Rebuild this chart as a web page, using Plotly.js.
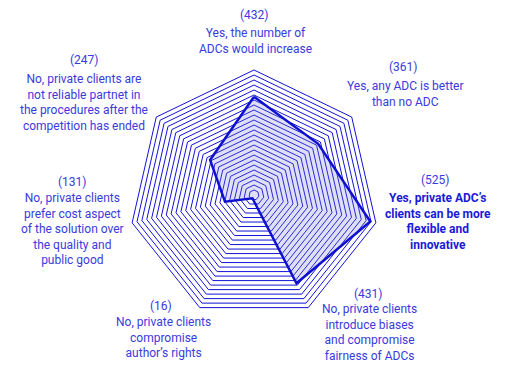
<!DOCTYPE html>
<html>
<head>
<meta charset="utf-8">
<script src="https://cdn.plot.ly/plotly-3.0.1.min.js"></script>
<style>html,body{margin:0;padding:0;background:#fff;}#chart{width:506px;height:365px;}</style>
</head>
<body>
<div id="chart"></div>
<script>
// ---- data ----
const categories = [
  "Yes, the number of<br>ADCs would increase",
  "Yes, any ADC is better<br>than no ADC",
  "Yes, private ADC’s<br>clients can be more<br>flexible and<br>innovative",
  "No, private clients<br>introduce biases<br>and compromise<br>fairness of ADCs",
  "No, private clients<br>compromise<br>author’s rights",
  "No, private clients<br>prefer cost aspect<br>of the solution over<br>the quality and<br>public good",
  "No, private clients are<br>not reliable partnet in<br>the procedures after the<br>competition has ended"
];
const counts = [432, 361, 525, 431, 16, 131, 247];
const boldIndex = [2];

// ---- layout helpers (pixel positions of label blocks) ----
const W = 506, H = 365;
const numPos  = [[254,15],[403,67],[435,180],[368,294],[161,306],[72,182],[84,60]];
const bodyPos = [[255,40.5],[405,94],[438,221.5],[369,332],[163,337],[72,229],[84,102.5]];

const lineCol = '#1212d6';
const textCol = '#3a3ade';
const fontFam = 'Roboto, "Open Sans", sans-serif';
const fs = 12;

const annotations = [];
categories.forEach((c, i) => {
  const bold = boldIndex.includes(i);
  annotations.push({
    xref:'paper', yref:'paper', x:numPos[i][0]/W, y:1-numPos[i][1]/H,
    xanchor:'center', yanchor:'middle', showarrow:false, borderpad:0,
    text:'(' + counts[i] + ')',
    font:{family:fontFam, size:fs, color:textCol}
  });
  annotations.push({
    xref:'paper', yref:'paper', x:bodyPos[i][0]/W, y:1-bodyPos[i][1]/H,
    xanchor:'center', yanchor:'middle', showarrow:false, align:'center', borderpad:0,
    text: bold ? '<b>' + c + '</b>' : c,
    font:{family:fontFam, size:fs, color: bold ? '#1a1ad6' : textCol}
  });
});

const trace = {
  type:'scatterpolar',
  r: counts.concat([counts[0]]),
  theta: categories.concat([categories[0]]),
  mode:'lines',
  fill:'toself',
  fillcolor:'rgba(120,120,220,0.24)',
  line:{color:'#1010d0', width:2.5},
  hoverinfo:'skip'
};

const layout = {
  width:W, height:H,
  margin:{l:0,r:0,t:0,b:0},
  paper_bgcolor:'#ffffff',
  showlegend:false,
  polar:{
    domain:{x:[129/W, 379/W], y:[45/H, 295/H]},
    bgcolor:'rgba(0,0,0,0)',
    gridshape:'linear',
    radialaxis:{range:[0,550], tick0:0, dtick:22, showticklabels:false, ticks:'',
      showline:false, gridcolor:lineCol, gridwidth:1},
    angularaxis:{direction:'clockwise', rotation:90, showticklabels:false, ticks:'',
      showgrid:false, showline:true, linecolor:lineCol, linewidth:1}
  },
  annotations: annotations
};

Plotly.newPlot('chart', [trace], layout, {displayModeBar:false, staticPlot:true});
</script>
</body>
</html>
